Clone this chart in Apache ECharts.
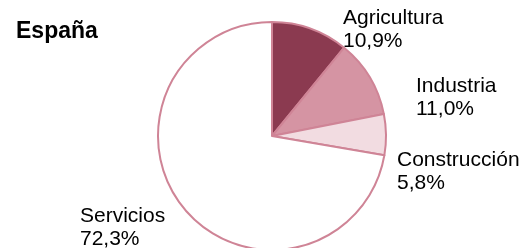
<!DOCTYPE html>
<html>
<head>
<meta charset="utf-8">
<script src="https://cdn.jsdelivr.net/npm/echarts@6/dist/echarts.min.js"></script>
<style>
  html, body { margin: 0; padding: 0; background: #fff; }
  #myCharts { width: 524px; height: 248px; }
</style>
</head>
<body>
<div id="myCharts"></div>
<script>
  // datos
  const categories = ['Agricultura', 'Industria', 'Construcción', 'Servicios'];
  const values = [10.9, 11.0, 5.8, 72.3];
  const colors = ['#8B3A50', '#D594A3', '#F2DCE1', '#FFFFFF'];
  // posición de cada etiqueta (esquina izq. superior del texto)
  const labelPos = [[343, 7], [416, 75], [397, 149], [80, 205]];

  const myCharts = echarts.init(document.getElementById('myCharts'));
  let options = {
    animation: false,
    title: {
      text: 'España',
      left: 11,
      top: 15,
      textStyle: { fontFamily: 'Liberation Sans', fontSize: 23, fontWeight: 'bold', color: '#000' }
    },
    series: [{
      type: 'pie',
      center: [272, 136],
      radius: 114,
      startAngle: 90,
      clockwise: true,
      itemStyle: { borderColor: '#CF8496', borderWidth: 2 },
      label: {
        show: true,
        position: 'outside',
        fontFamily: 'Liberation Sans',
        fontSize: 21,
        lineHeight: 23,
        color: '#000',
        overflow: 'none',
        width: 200,
        formatter: function (p) {
          return p.name + '\n' + p.value.toFixed(1).replace('.', ',') + '%';
        }
      },
      labelLine: { show: false },
      labelLayout: function (p) {
        const pos = labelPos[p.dataIndex];
        return { x: pos[0], y: pos[1], align: 'left', verticalAlign: 'top' };
      },
      data: categories.map(function (c, i) {
        return { name: c, value: values[i], itemStyle: { color: colors[i] } };
      })
    }]
  };
  myCharts.setOption(options);
</script>
</body>
</html>
